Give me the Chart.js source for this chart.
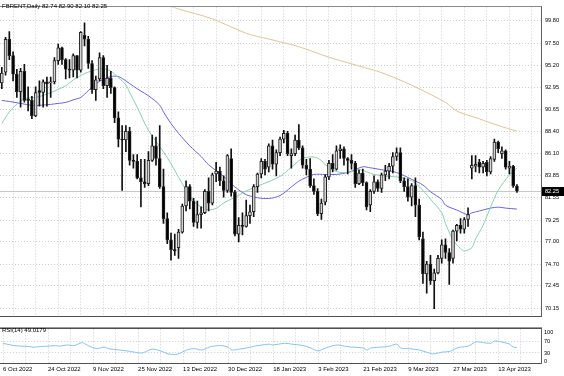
<!DOCTYPE html>
<html><head><meta charset="utf-8">
<script src="https://cdn.jsdelivr.net/npm/chart.js@4.4.1/dist/chart.umd.min.js"></script>
<style>
html,body{margin:0;padding:0;background:#fff;}
#wrap{position:relative;width:564px;height:376px;overflow:hidden;background:#fff;}
canvas{position:absolute;left:0;}
#cMain{top:0;}
#cRsi{top:323px;}
.txt{position:absolute;font-family:"Liberation Sans",Arial,sans-serif;font-size:6px;color:#000;white-space:pre;line-height:1;}
</style></head><body>
<div id="wrap">
<canvas id="cMain" width="564" height="323"></canvas>
<canvas id="cRsi" width="564" height="53"></canvas>
<div class="txt" id="title" style="left:2px;top:3px;"></div>
<div class="txt" id="rsiTitle" style="left:2px;top:327px;"></div>
</div>
<script>
// ---------- DATA ----------
const symbol = 'FBRENT,Daily';
const dates = [
'6 Oct 2022','7 Oct 2022','10 Oct 2022','11 Oct 2022','12 Oct 2022','13 Oct 2022','14 Oct 2022','17 Oct 2022','18 Oct 2022','19 Oct 2022','20 Oct 2022','21 Oct 2022',
'24 Oct 2022','25 Oct 2022','26 Oct 2022','27 Oct 2022','28 Oct 2022','31 Oct 2022','1 Nov 2022','2 Nov 2022','3 Nov 2022','4 Nov 2022','7 Nov 2022','8 Nov 2022',
'9 Nov 2022','10 Nov 2022','11 Nov 2022','14 Nov 2022','15 Nov 2022','16 Nov 2022','17 Nov 2022','18 Nov 2022','21 Nov 2022','22 Nov 2022','23 Nov 2022','24 Nov 2022',
'25 Nov 2022','28 Nov 2022','29 Nov 2022','30 Nov 2022','1 Dec 2022','2 Dec 2022','5 Dec 2022','6 Dec 2022','7 Dec 2022','8 Dec 2022','9 Dec 2022','12 Dec 2022',
'13 Dec 2022','14 Dec 2022','15 Dec 2022','16 Dec 2022','19 Dec 2022','20 Dec 2022','21 Dec 2022','22 Dec 2022','23 Dec 2022','27 Dec 2022','28 Dec 2022','29 Dec 2022',
'30 Dec 2022','3 Jan 2023','4 Jan 2023','5 Jan 2023','6 Jan 2023','9 Jan 2023','10 Jan 2023','11 Jan 2023','12 Jan 2023','13 Jan 2023','16 Jan 2023','17 Jan 2023',
'18 Jan 2023','19 Jan 2023','20 Jan 2023','23 Jan 2023','24 Jan 2023','25 Jan 2023','26 Jan 2023','27 Jan 2023','30 Jan 2023','31 Jan 2023','1 Feb 2023','2 Feb 2023',
'3 Feb 2023','6 Feb 2023','7 Feb 2023','8 Feb 2023','9 Feb 2023','10 Feb 2023','13 Feb 2023','14 Feb 2023','15 Feb 2023','16 Feb 2023','17 Feb 2023','20 Feb 2023',
'21 Feb 2023','22 Feb 2023','23 Feb 2023','24 Feb 2023','27 Feb 2023','28 Feb 2023','1 Mar 2023','2 Mar 2023','3 Mar 2023','6 Mar 2023','7 Mar 2023','8 Mar 2023',
'9 Mar 2023','10 Mar 2023','13 Mar 2023','14 Mar 2023','15 Mar 2023','16 Mar 2023','17 Mar 2023','20 Mar 2023','21 Mar 2023','22 Mar 2023','23 Mar 2023','24 Mar 2023',
'27 Mar 2023','28 Mar 2023','29 Mar 2023','30 Mar 2023','31 Mar 2023','3 Apr 2023','4 Apr 2023','5 Apr 2023','6 Apr 2023','10 Apr 2023','11 Apr 2023','12 Apr 2023',
'13 Apr 2023','14 Apr 2023','17 Apr 2023','18 Apr 2023','19 Apr 2023','20 Apr 2023'
];
const opens = [
93.4,94.5,97.9,96.2,94.3,92.5,94.6,91.7,91.6,90.0,92.6,92.4,
93.5,93.4,93.5,95.7,97.0,95.8,94.8,94.7,96.2,94.7,98.3,97.9,
95.4,92.7,93.8,96.0,93.1,93.9,92.9,89.8,87.6,87.5,88.4,85.4,
85.3,83.6,83.2,83.0,85.4,86.9,85.6,82.7,79.4,77.2,76.2,76.4,
78.0,80.7,82.7,81.2,79.0,79.8,80.0,82.2,81.0,84.0,84.3,83.3,
82.3,85.6,82.1,77.8,78.7,78.6,79.7,80.1,82.7,84.0,85.3,84.7,
86.9,85.0,86.2,87.6,88.2,85.9,86.1,87.5,86.7,84.9,84.5,82.8,
82.2,79.9,81.1,83.7,85.1,84.5,86.4,86.6,85.6,85.4,85.1,83.0,
84.1,83.1,80.8,82.2,83.2,82.5,83.9,84.3,84.8,85.8,86.2,83.3,
82.7,81.6,82.8,80.8,77.3,73.7,74.7,73.0,73.8,75.3,76.7,75.9,
75.3,78.1,78.7,78.3,79.3,84.6,84.8,85.2,84.7,85.2,84.2,85.5,
87.3,86.1,86.4,84.6,84.8,82.74
];
const highs = [
95.0,98.1,98.7,96.6,94.8,94.9,95.3,93.0,92.0,93.0,93.6,93.7,
94.0,94.0,96.0,97.4,97.1,95.9,95.8,96.4,96.2,98.7,99.6,98.2,
95.7,94.1,96.5,96.2,95.2,94.6,93.0,90.4,89.0,89.0,88.8,86.0,
86.0,85.5,85.5,86.3,88.0,87.8,89.0,84.5,80.0,77.9,77.8,78.3,
80.9,83.3,82.9,81.5,81.2,80.6,82.4,83.6,84.1,85.2,84.7,83.8,
86.0,86.6,82.3,79.5,80.0,81.3,80.8,82.9,84.1,85.6,85.5,87.1,
87.5,86.5,87.8,88.5,88.4,86.6,88.0,89.1,86.9,85.5,85.6,83.5,
82.5,81.4,83.9,85.4,86.0,86.9,87.0,86.8,85.7,86.0,85.3,84.4,
84.5,83.2,82.4,83.8,83.4,84.1,84.9,85.1,86.2,86.7,86.7,83.6,
83.5,83.0,83.6,81.4,78.0,75.0,75.6,74.2,75.6,77.2,77.3,76.3,
78.2,78.8,79.4,79.5,80.5,85.9,85.9,85.5,85.3,85.4,85.8,87.6,
87.4,86.8,86.5,85.3,84.9,82.90
];
const lows = [
92.8,94.2,95.8,93.6,91.9,90.9,91.4,90.5,89.7,89.9,91.0,90.9,
91.0,91.9,93.3,95.3,95.3,93.8,93.9,94.0,93.9,94.5,97.2,94.9,
92.3,91.6,93.6,92.8,91.9,92.3,89.3,86.8,82.3,86.3,84.9,84.6,
83.5,80.6,82.6,82.8,85.3,84.9,82.5,78.9,76.8,75.1,75.6,75.3,
77.9,80.2,80.4,78.6,78.4,78.4,79.9,80.2,80.8,83.2,82.8,81.6,
82.1,81.7,77.6,77.0,77.7,78.5,78.9,79.6,82.1,83.6,83.9,84.2,
84.5,83.8,85.9,87.2,85.9,84.6,85.9,86.5,84.6,83.9,82.6,81.9,
79.7,79.3,80.8,83.4,84.2,84.4,85.6,84.9,84.0,84.5,82.6,82.9,
82.8,80.3,80.1,82.0,82.2,82.1,83.3,83.5,84.1,85.4,83.1,82.2,
81.2,80.7,79.6,77.2,72.7,71.7,72.6,70.1,73.7,74.8,75.3,72.6,
74.8,77.1,77.9,77.9,78.6,83.5,84.2,84.1,84.1,83.8,84.0,85.3,
86.2,85.6,84.5,84.0,82.6,82.10
];
const closes = [
94.4,97.9,96.2,94.3,92.5,94.6,91.6,91.6,90.0,92.4,92.4,93.5,
93.3,93.5,95.7,97.0,95.8,94.8,94.7,96.2,94.7,98.6,97.9,95.4,
92.7,93.7,96.0,93.1,93.9,92.9,89.8,87.6,87.5,88.4,85.4,85.3,
83.6,83.2,83.0,85.4,86.9,85.6,82.7,79.4,77.2,76.2,76.1,78.0,
80.7,82.7,81.2,79.0,79.8,80.0,82.2,81.0,83.9,84.3,83.3,82.3,
85.9,82.1,77.8,78.7,78.6,79.7,80.1,82.7,84.0,85.3,84.5,86.9,
85.0,86.2,87.6,88.2,86.1,86.1,87.5,86.7,84.9,84.5,82.8,82.2,
79.9,81.0,83.7,85.1,84.5,86.4,86.6,85.6,85.4,85.1,83.0,84.1,
83.1,80.6,82.2,83.2,82.5,83.9,84.3,84.8,85.8,86.2,83.3,82.7,
81.6,82.8,80.8,77.5,73.7,74.7,73.0,73.8,75.3,76.7,75.9,75.0,
78.1,78.7,78.3,79.3,79.8,84.9,85.0,84.7,85.1,84.2,85.6,87.3,
86.6,86.4,84.7,84.8,82.8,82.25
];
// moving averages: [bar index, price]
const maFast = [[0,89.2],[2,90.4],[4,91.2],[6,91.75],[9,91.9],[11,92.1],[14,92.55],[17,93.1],[19,93.7],[22,94.35],[25,94.75],[27,94.85],[29,94.6],[31,93.95],[33,93.2],[34,92.4],[36,90.9],[39,88.5],[44,85.7],[48,83.0],[51,81.2],[53,80.6],[55,80.3],[57,80.45],[59,81.0],[63,81.8],[65,82.25],[69,82.9],[74,83.75],[77,84.7],[80,85.6],[83,85.75],[85,85.4],[86,84.95],[89,84.25],[92,84.15],[95,84.45],[99,83.95],[101,83.85],[103,83.75],[106,83.65],[109,83.3],[111,82.7],[114,81.4],[117,80.0],[118,78.9],[120,77.2],[122,76.3],[123,76.05],[125,76.4],[126,77.3],[128,78.7],[130,80.6],[132,82.3],[135,83.9],[137,84.6]];
const maMid = [[0,91.58],[2,91.48],[5,91.28],[8,91.08],[10,91.08],[13,91.18],[15,91.28],[17,91.38],[19,91.65],[21,91.9],[23,92.6],[26,93.56],[29,94.05],[31,94.05],[33,93.6],[35,93.05],[37,92.55],[39,92.07],[42,91.1],[43,90.4],[45,89.2],[47,88.2],[50,86.9],[53,85.8],[55,84.95],[59,83.75],[62,82.66],[65,81.87],[68,81.55],[71,81.47],[74,81.77],[77,82.66],[79,83.26],[81,83.65],[83,83.95],[86,83.95],[89,83.95],[92,84.15],[94,84.44],[96,84.74],[98,84.64],[101,84.44],[105,84.15],[109,83.45],[112,82.86],[114,82.17],[117,81.37],[118,80.78],[121,80.28],[124,79.79],[125,79.99],[127,80.18],[130,80.48],[132,80.58],[134,80.48],[137,80.38]];
const maSlow = [[45,101.29],[47,101.02],[56,100.0],[65,98.51],[71,97.92],[79,97.13],[87,96.04],[95,95.14],[101,94.45],[109,93.16],[118,91.38],[121,90.49],[127,89.69],[132,89.0],[137,88.41]];
// RSI(14): [bar index, value]
const rsi = [[0,62.9],[1,59.9],[3,55.1],[5,53.0],[7,52.1],[8,49.1],[10,52.1],[12,53.0],[14,55.1],[15,53.0],[17,56.9],[19,55.1],[21,65.0],[22,59.9],[23,53.0],[25,44.9],[27,50.0],[28,44.9],[31,40.1],[33,37.1],[35,32.9],[37,29.9],[39,40.1],[40,43.1],[42,37.1],[44,26.9],[46,25.1],[47,28.1],[49,40.1],[51,44.9],[53,40.1],[55,50.0],[56,53.0],[58,55.1],[60,50.0],[61,40.1],[63,43.1],[65,47.0],[67,53.0],[69,56.9],[71,59.9],[72,56.9],[75,62.9],[77,59.9],[80,55.1],[82,47.0],[84,37.1],[86,47.0],[89,56.9],[91,53.0],[93,50.0],[96,47.0],[97,40.1],[98,47.0],[101,50.0],[103,53.0],[105,59.9],[106,47.0],[108,44.9],[111,40.1],[114,28.1],[115,26.9],[117,32.9],[119,35.0],[121,47.0],[122,50.0],[124,53.0],[126,67.1],[128,65.0],[130,62.9],[131,70.1],[133,67.1],[135,59.9],[136,50.0],[137,49.0179]];
const rsiLast = 49.0179;
const priceTicks = [99.80,97.50,95.20,92.95,90.65,88.40,86.10,83.85,81.55,79.25,77.00,74.70,72.45,70.15];
const rsiTicks = [100,70,30,0];
const rsiLevels = [70,30];

// ---------- RENDER ----------
Chart.defaults.font.family = '"Liberation Sans", Arial, sans-serif';
Chart.defaults.color = '#000';
const N = dates.length;
const last = N - 1;
document.getElementById('title').textContent =
  symbol + ' ' + [opens[last], highs[last], lows[last], closes[last]].map(v => v.toFixed(2)).join(' ');
document.getElementById('rsiTitle').textContent = 'RSI(14) ' + rsiLast.toFixed(4);

const X_MIN = -0.48, X_MAX = 143.4;
const gridBars = [];
for (let b = 0; b <= 138; b += 6) gridBars.push(b);
const GRID = '#cdcdcd';
const idx = dates.map((d, i) => i);

const frame = {
  id: 'frame',
  beforeDatasetsDraw(chart, args, o) {
    if (o.bid == null) return;
    const {ctx, chartArea: a, scales} = chart;
    const py = Math.round(scales.y.getPixelForValue(o.bid)) + 0.5;
    ctx.save(); ctx.strokeStyle = '#c8c8c8'; ctx.lineWidth = 1;
    ctx.beginPath(); ctx.moveTo(a.left, py); ctx.lineTo(a.right, py); ctx.stroke(); ctx.restore();
  },
  afterDraw(chart, args, o) {
    const {ctx, chartArea: a, scales} = chart;
    ctx.save(); ctx.lineWidth = 1;
    const hl = (y, c) => { ctx.strokeStyle = c; ctx.beginPath(); ctx.moveTo(0, y); ctx.lineTo(a.right + 1, y); ctx.stroke(); };
    if (o.top) hl(Math.round(a.top) - 0.5, o.top);
    if (o.top2) hl(Math.round(a.top) - 1.5, o.top2);
    if (o.bottom) hl(Math.round(a.bottom) + 0.5, o.bottom);
    ctx.strokeStyle = o.right; ctx.beginPath();
    ctx.moveTo(Math.round(a.right) + 0.5, a.top - 1); ctx.lineTo(Math.round(a.right) + 0.5, a.bottom + 1); ctx.stroke();
    if (o.bid != null) {
      const py = scales.y.getPixelForValue(o.bid);
      ctx.fillStyle = '#000';
      ctx.fillRect(Math.round(a.right) + 1, Math.round(py) - 4, 23, 9);
      ctx.fillStyle = '#fff'; ctx.font = '5.6px "Liberation Sans", Arial, sans-serif';
      ctx.textBaseline = 'middle'; ctx.textAlign = 'left';
      ctx.fillText(o.bid.toFixed(2), Math.round(a.right) + 4, Math.round(py) + 0.5);
    }
    ctx.restore();
  }
};

const lineDs = (pts, color, order) => ({
  type: 'line', data: pts.map(p => ({x: p[0], y: p[1]})), borderColor: color, borderWidth: 1,
  pointRadius: 0, tension: 0.3, order: order, fill: false
});

new Chart(document.getElementById('cMain'), {
  type: 'bar',
  data: { datasets: [
    lineDs(maSlow, '#dcc59e', 5),
    lineDs(maMid, '#6a66d2', 4),
    lineDs(maFast, '#8ccdae', 3),
    { type: 'bar', data: idx.map(i => ({x: i, y: [lows[i], highs[i]]})), backgroundColor: '#111',
      barThickness: 1, grouped: false, order: 1 },
    { type: 'bar', data: idx.map(i => ({x: i, y: [opens[i], closes[i]]})),
      backgroundColor: idx.map(i => closes[i] >= opens[i] ? '#d4d4d4' : '#000'),
      borderColor: '#222', borderWidth: 1, borderSkipped: false, barThickness: 3, grouped: false, order: 0 }
  ]},
  options: {
    responsive: false, animation: false, devicePixelRatio: 1,
    layout: { padding: { top: 1, bottom: 1, left: 0, right: 0 } },
    plugins: { legend: { display: false }, tooltip: { enabled: false },
      frame: { top: '#8a8a8a', bottom: '#505050', right: '#606060', bid: closes[last] } },
    scales: {
      x: { type: 'linear', min: X_MIN, max: X_MAX, offset: false,
        afterBuildTicks: s => { s.ticks = gridBars.map(v => ({value: v})); },
        afterFit: s => { s.height = 0; },
        ticks: { display: false, autoSkip: false },
        grid: { color: GRID, lineWidth: 1, drawTicks: false },
        border: { display: false, dash: [1, 2] } },
      y: { position: 'right', min: 69.386, max: 101.187,
        afterBuildTicks: s => { s.ticks = priceTicks.map(v => ({value: v})); },
        afterFit: s => { s.width = 23; },
        ticks: { autoSkip: false, padding: 4, font: { size: 5.6 }, color: '#000', callback: v => Number(v).toFixed(2) },
        grid: { color: GRID, lineWidth: 1, drawTicks: false },
        border: { display: false, dash: [1, 2] } }
    }
  },
  plugins: [frame]
});

new Chart(document.getElementById('cRsi'), {
  type: 'line',
  data: { datasets: [ lineDs(rsi, '#86c3ea', 0) ] },
  options: {
    responsive: false, animation: false, devicePixelRatio: 1,
    layout: { padding: { top: 2, bottom: 0, left: 0, right: 0 } },
    plugins: { legend: { display: false }, tooltip: { enabled: false },
      frame: { top: '#505050', top2: '#9a9a9a', bottom: '#505050', right: '#606060' } },
    scales: {
      x: { type: 'linear', min: X_MIN, max: X_MAX, offset: false,
        afterBuildTicks: s => { s.ticks = gridBars.map(v => ({value: v})); },
        afterFit: s => { s.height = 13; },
        ticks: { autoSkip: false, maxRotation: 0, minRotation: 0, align: 'start', padding: 3,
          font: { size: 6 }, color: '#000',
          callback: v => (v % 12 === 0 && v < N) ? dates[v] : '' },
        grid: { color: GRID, lineWidth: 1, drawTicks: false },
        border: { display: false, dash: [1, 2] } },
      y: { position: 'right', min: -3.89, max: 109.88,
        afterBuildTicks: s => { s.ticks = rsiTicks.map(v => ({value: v})); },
        afterFit: s => { s.width = 23; },
        ticks: { autoSkip: false, padding: 3, font: { size: 5.6 }, color: '#000' },
        grid: { color: c => rsiLevels.includes(c.tick && c.tick.value) ? GRID : 'rgba(0,0,0,0)', lineWidth: 1, drawTicks: false },
        border: { display: false, dash: [1, 2] } }
    }
  },
  plugins: [frame]
});
</script>
</body></html>
